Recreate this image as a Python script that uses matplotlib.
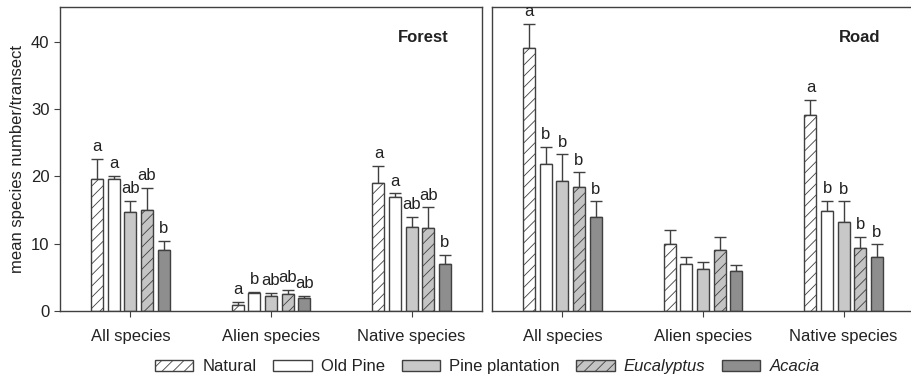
import numpy as np
import matplotlib
matplotlib.use('Agg')
import matplotlib.pyplot as plt

plt.rcParams['font.family'] = ['Liberation Sans', 'DejaVu Sans']
plt.rcParams['hatch.linewidth'] = 0.6
plt.rcParams['hatch.color'] = '#404040'

groups = ['All species', 'Alien species', 'Native species']
habitats = ['Natural', 'Old Pine', 'Pine plantation', 'Eucalyptus', 'Acacia']

# mean values per habitat, one list per group (All, Alien, Native)
forest_mean = {
    'Natural':         [19.7, 0.85, 19.0],
    'Old Pine':        [19.6, 2.7, 16.9],
    'Pine plantation': [14.7, 2.2, 12.5],
    'Eucalyptus':      [15.0, 2.6, 12.3],
    'Acacia':          [9.0, 2.0, 7.0],
}
forest_err = {
    'Natural':         [2.9, 0.55, 2.6],
    'Old Pine':        [0.5, 0.1, 0.6],
    'Pine plantation': [1.7, 0.5, 1.5],
    'Eucalyptus':      [3.3, 0.5, 3.1],
    'Acacia':          [1.4, 0.2, 1.3],
}
forest_letters = {
    'Natural':         ['a', 'a', 'a'],
    'Old Pine':        ['a', 'b', 'a'],
    'Pine plantation': ['ab', 'ab', 'ab'],
    'Eucalyptus':      ['ab', 'ab', 'ab'],
    'Acacia':          ['b', 'ab', 'b'],
}

road_mean = {
    'Natural':         [39.1, 10.0, 29.1],
    'Old Pine':        [21.9, 7.0, 14.9],
    'Pine plantation': [19.4, 6.2, 13.2],
    'Eucalyptus':      [18.4, 9.1, 9.4],
    'Acacia':          [14.0, 6.0, 8.0],
}
road_err = {
    'Natural':         [3.6, 2.1, 2.3],
    'Old Pine':        [2.5, 1.1, 1.5],
    'Pine plantation': [3.9, 1.1, 3.1],
    'Eucalyptus':      [2.2, 1.9, 1.6],
    'Acacia':          [2.3, 0.9, 1.9],
}
road_letters = {
    'Natural':         ['a', '', 'a'],
    'Old Pine':        ['b', '', 'b'],
    'Pine plantation': ['b', '', 'b'],
    'Eucalyptus':      ['b', '', 'b'],
    'Acacia':          ['b', '', 'b'],
}

styles = {
    'Natural':         dict(color='white', hatch='///'),
    'Old Pine':        dict(color='white', hatch=None),
    'Pine plantation': dict(color='#c8c8c8', hatch=None),
    'Eucalyptus':      dict(color='#c4c4c4', hatch='///'),
    'Acacia':          dict(color='#8e8e8e', hatch=None),
}

edge = '#404040'
txt = '#222222'

fig = plt.figure(figsize=(9.11, 3.79), dpi=100)
ax1 = fig.add_axes([60 / 911, 1 - 311 / 379, 422 / 911, 304 / 379])
ax2 = fig.add_axes([492 / 911, 1 - 311 / 379, 422 / 911, 304 / 379])

x = np.arange(len(groups))
step = 0.118
width = 0.085


def draw(ax, means, errs, letters, title):
    handles = []
    for i, h in enumerate(habitats):
        pos = x + (i - 2) * step
        st = styles[h]
        b = ax.bar(pos, means[h], width, color=st['color'], hatch=st['hatch'],
                   edgecolor=edge, linewidth=1.0, label=h, zorder=2)
        handles.append(b)
        ax.errorbar(pos, means[h], yerr=[np.zeros(3), errs[h]], fmt='none',
                    ecolor=edge, elinewidth=1.0, capsize=4, capthick=1.0, zorder=1)
        for p, m, e, l in zip(pos, means[h], errs[h], letters[h]):
            if l:
                ax.text(p, m + e + 0.7, l, ha='center', va='bottom',
                        fontsize=12, color=txt)
    ax.set_xlim(-0.5, 2.5)
    ax.set_ylim(0, 45.2)
    ax.set_xticks(x)
    ax.set_xticklabels(groups, fontsize=12, color=txt)
    ax.tick_params(axis='x', length=4, color=edge, pad=9)
    for s in ax.spines.values():
        s.set_color(edge)
        s.set_linewidth(1.0)
    ax.text(0.92, 0.90, title, transform=ax.transAxes, ha='right', va='center',
            fontsize=12, fontweight='bold', color=txt)
    return handles


handles = draw(ax1, forest_mean, forest_err, forest_letters, 'Forest')
draw(ax2, road_mean, road_err, road_letters, 'Road')

ax1.set_yticks([0, 10, 20, 30, 40])
ax1.tick_params(axis='y', labelsize=12, labelcolor=txt, length=4, color=edge)
ax1.set_ylabel('mean species number/transect', fontsize=12, color=txt)
ax2.set_yticks([])

leg = fig.legend(handles, habitats, loc='center', bbox_to_anchor=(0.535, 0.032),
                 ncol=5, frameon=False, fontsize=12, handlelength=2.3,
                 handleheight=0.6, columnspacing=1.0, handletextpad=0.55)
for t in leg.get_texts():
    t.set_color(txt)
for t in leg.get_texts()[3:]:
    t.set_fontstyle('italic')

fig.savefig('out.png', dpi=100)
